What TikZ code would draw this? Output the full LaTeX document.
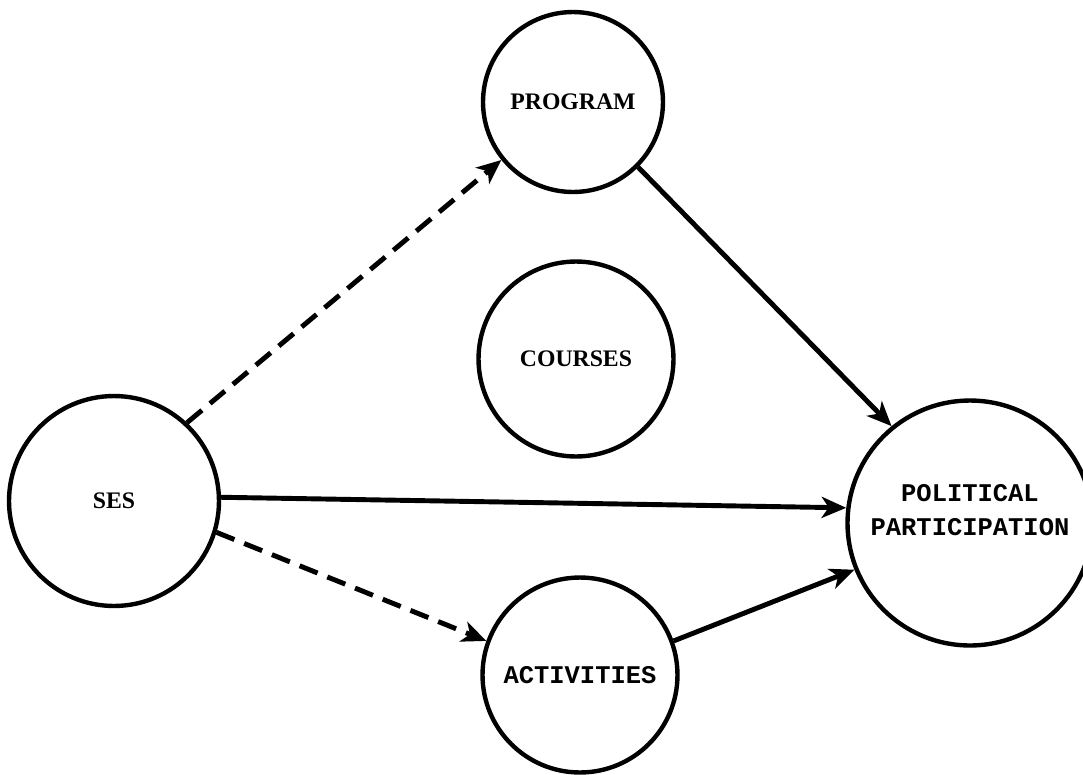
\documentclass[tikz,border=0pt]{standalone}
\usepackage{fontspec}
\setmainfont{Liberation Serif}
\newfontfamily\typefont{Liberation Mono}
\usetikzlibrary{positioning,arrows.meta}

\begin{document}
\begin{tikzpicture}[
	x=0.02cm, y=-0.02cm,
	var/.style={draw, circle, line width=2.5pt, inner sep=0pt,
		font=\fontsize{13.5}{15}\selectfont\bfseries},
	typed/.style={font=\typefont\fontsize{14.5}{19}\selectfont\bfseries, align=center},
	link/.style={line width=2.8pt, -{Stealth[length=14pt,width=12pt,inset=4pt]}},
	indirect/.style={link, dash pattern=on 11pt off 6pt}
]
	\useasboundingbox (0,0) rectangle (1083,775);

	% variables
	\node[var, minimum size=4.2cm] (SES) at (114,501) {SES};
	\node[var, minimum size=3.6cm] (PROG) at (573,102) {PROGRAM};
	\node[var, minimum size=3.9cm] (CRS) at (576,359) {COURSES};
	\node[var, typed, minimum size=3.9cm] (ACT) at (580,675) {ACTIVITIES};
	\node[var, typed, minimum size=4.9cm] (PP) at (970,523)
		{POLITICAL\\PARTICIPATION\\[-4pt]\mbox{}};

	% effects
	\draw[indirect] (SES.47) -- (PROG.219);
	\draw[indirect] (SES.343) -- (ACT.160);
	\draw[link] (SES.2) -- (PP.173);
	\draw[link] (PROG.315) -- (PP.129);
	\draw[link] (ACT.20) -- (PP.202);
\end{tikzpicture}
\end{document}
